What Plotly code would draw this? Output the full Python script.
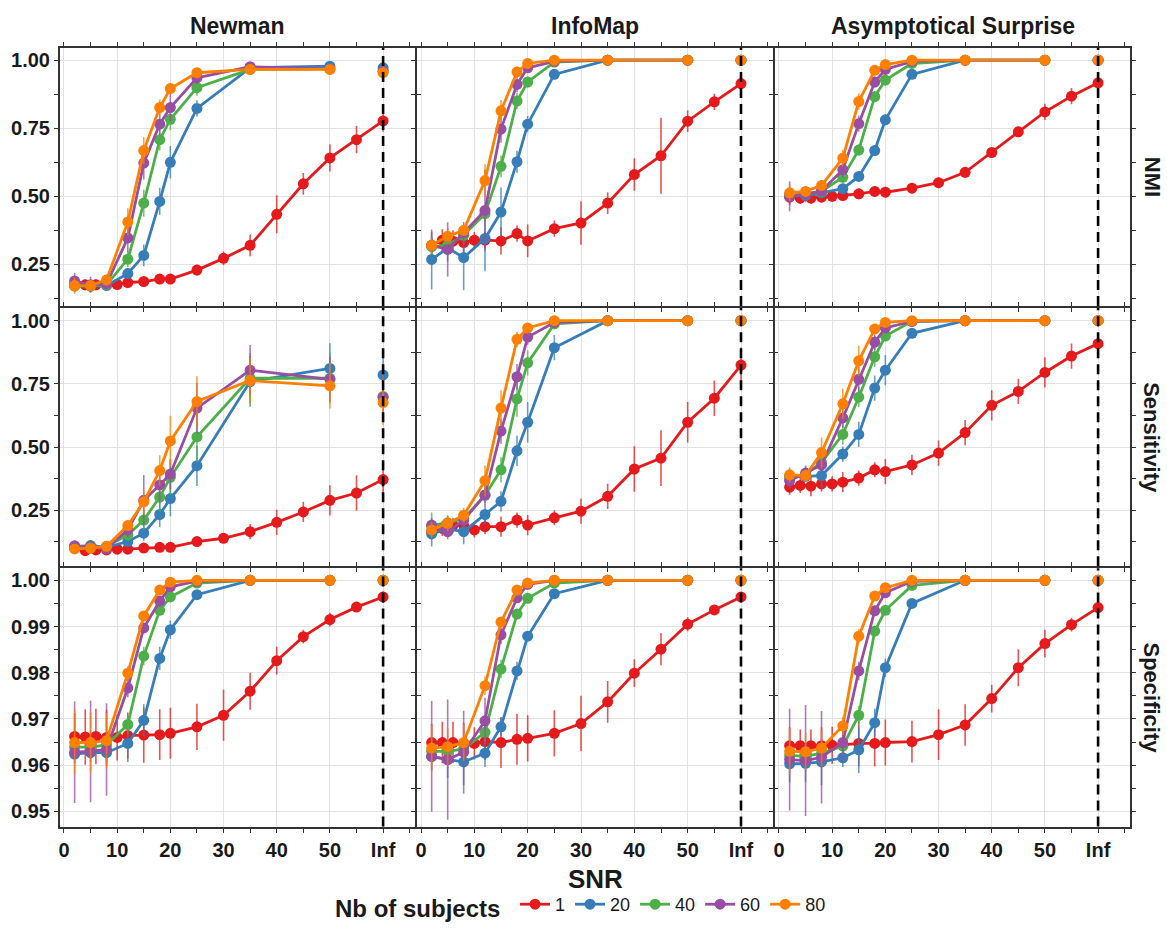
import plotly.graph_objects as go
from plotly.subplots import make_subplots

# ---------------- data ----------------
INF_POS = 60  # position used for the "Inf" SNR level
SNR_SINGLE = [2, 4, 6, 8, 10, 12, 15, 18, 20, 25, 30, 35, 40, 45, 50, 55, "Inf"]
SNR_GROUP = [2, 5, 8, 12, 15, 18, 20, 25, 35, 50, "Inf"]
X_TICKS = [0, 10, 20, 30, 40, 50, "Inf"]
X_MINOR = [5, 15, 25, 35, 45, 55, 65]
SUBJECTS = [1, 20, 40, 60, 80]
COLORS = ["#E41A1C", "#377EB8", "#4DAF4A", "#984EA3", "#FF7F00"]
METHODS = ["Newman", "InfoMap", "Asymptotical Surprise"]
METRICS = ["NMI", "Sensitivity", "Specificity"]

NEWMAN_NMI = {
    1: [0.177, 0.175, 0.175, 0.176, 0.176, 0.183, 0.187, 0.196, 0.196, 0.229, 0.272, 0.32, 0.434, 0.546, 0.641, 0.708, 0.777],
    20: [0.172, 0.17, 0.172, 0.216, 0.283, 0.481, 0.625, 0.823, 0.972, 0.978, 0.972],
    40: [0.17, 0.17, 0.175, 0.269, 0.475, 0.708, 0.783, 0.899, 0.966, 0.968, 0.96],
    60: [0.189, 0.175, 0.178, 0.347, 0.622, 0.765, 0.826, 0.935, 0.976, 0.968, 0.96],
    80: [0.172, 0.172, 0.193, 0.406, 0.668, 0.826, 0.896, 0.954, 0.966, 0.966, 0.954],
}
NEWMAN_NMI_ERR = {
    1: [0.02, 0.02, 0.02, 0.015, 0.015, 0.015, 0.015, 0.015, 0.015, 0.02, 0.025, 0.04, 0.07, 0.04, 0.05, 0.05, 0.04],
    20: [0.02, 0.02, 0.015, 0.02, 0.04, 0.05, 0.06, 0.03, 0.01, 0.01, 0.01],
    40: [0.02, 0.02, 0.015, 0.03, 0.05, 0.04, 0.04, 0.03, 0.01, 0.01, 0.01],
    60: [0.03, 0.03, 0.02, 0.05, 0.06, 0.04, 0.05, 0.02, 0.01, 0.01, 0.01],
    80: [0.03, 0.02, 0.02, 0.05, 0.05, 0.03, 0.02, 0.01, 0.01, 0.01, 0.01],
}
INFOMAP_NMI = {
    1: [0.32, 0.339, 0.335, 0.33, 0.339, 0.339, 0.336, 0.363, 0.336, 0.381, 0.402, 0.475, 0.58, 0.649, 0.776, 0.847, 0.914],
    20: [0.268, 0.31, 0.275, 0.345, 0.442, 0.627, 0.765, 0.948, 1.0, 1.0, 1.0],
    40: [0.315, 0.32, 0.357, 0.436, 0.61, 0.85, 0.92, 0.993, 1.0, 1.0, 1.0],
    60: [0.32, 0.305, 0.366, 0.448, 0.747, 0.911, 0.972, 0.996, 1.0, 1.0, 1.0],
    80: [0.32, 0.353, 0.375, 0.558, 0.814, 0.957, 0.988, 1.0, 1.0, 1.0, 1.0],
}
INFOMAP_NMI_ERR = {
    1: [0.05, 0.04, 0.04, 0.04, 0.03, 0.03, 0.05, 0.03, 0.06, 0.03, 0.08, 0.04, 0.06, 0.14, 0.04, 0.03, 0.03],
    20: [0.11, 0.05, 0.12, 0.12, 0.09, 0.04, 0.03, 0.01, 0.0, 0.0, 0.0],
    40: [0.03, 0.03, 0.03, 0.03, 0.04, 0.03, 0.02, 0.005, 0.0, 0.0, 0.0],
    60: [0.03, 0.1, 0.04, 0.15, 0.05, 0.03, 0.01, 0.005, 0.0, 0.0, 0.0],
    80: [0.03, 0.03, 0.02, 0.06, 0.04, 0.02, 0.01, 0.0, 0.0, 0.0, 0.0],
}
AS_NMI = {
    1: [0.497, 0.493, 0.493, 0.497, 0.5, 0.503, 0.509, 0.518, 0.515, 0.53, 0.55, 0.588, 0.661, 0.737, 0.81, 0.868, 0.917],
    20: [0.503, 0.503, 0.513, 0.528, 0.573, 0.668, 0.781, 0.948, 1.0, 1.0, 1.0],
    40: [0.505, 0.508, 0.518, 0.57, 0.67, 0.866, 0.927, 0.988, 1.0, 1.0, 1.0],
    60: [0.5, 0.508, 0.52, 0.598, 0.767, 0.92, 0.966, 0.996, 1.0, 1.0, 1.0],
    80: [0.513, 0.518, 0.54, 0.64, 0.848, 0.963, 0.984, 1.0, 1.0, 1.0, 1.0],
}
AS_NMI_ERR = {
    1: [0.03, 0.02, 0.02, 0.02, 0.02, 0.02, 0.02, 0.02, 0.02, 0.02, 0.02, 0.02, 0.02, 0.02, 0.03, 0.03, 0.03],
    20: [0.02, 0.02, 0.02, 0.02, 0.02, 0.02, 0.02, 0.01, 0.0, 0.0, 0.0],
    40: [0.02, 0.02, 0.02, 0.02, 0.02, 0.02, 0.02, 0.01, 0.0, 0.0, 0.0],
    60: [0.055, 0.03, 0.02, 0.03, 0.03, 0.02, 0.01, 0.0, 0.0, 0.0, 0.0],
    80: [0.03, 0.02, 0.02, 0.03, 0.03, 0.01, 0.01, 0.0, 0.0, 0.0, 0.0],
}
NEWMAN_SENS = {
    1: [0.10, 0.09, 0.093, 0.093, 0.096, 0.096, 0.10, 0.103, 0.103, 0.126, 0.139, 0.165, 0.202, 0.243, 0.289, 0.318, 0.371],
    20: [0.107, 0.11, 0.103, 0.126, 0.159, 0.233, 0.296, 0.426, 0.759, 0.811, 0.785],
    40: [0.10, 0.10, 0.107, 0.152, 0.211, 0.302, 0.38, 0.54, 0.772, 0.772, 0.70],
    60: [0.109, 0.103, 0.098, 0.172, 0.289, 0.35, 0.393, 0.654, 0.804, 0.768, 0.697],
    80: [0.097, 0.10, 0.107, 0.189, 0.283, 0.407, 0.524, 0.68, 0.763, 0.742, 0.676],
}
NEWMAN_SENS_ERR = {
    1: [0.01, 0.01, 0.01, 0.01, 0.01, 0.01, 0.01, 0.01, 0.01, 0.015, 0.015, 0.03, 0.05, 0.04, 0.06, 0.07, 0.07],
    20: [0.01, 0.01, 0.01, 0.02, 0.03, 0.05, 0.07, 0.08, 0.1, 0.1, 0.1],
    40: [0.01, 0.01, 0.01, 0.02, 0.04, 0.06, 0.07, 0.1, 0.1, 0.1, 0.1],
    60: [0.01, 0.01, 0.01, 0.03, 0.1, 0.07, 0.06, 0.1, 0.1, 0.09, 0.09],
    80: [0.01, 0.01, 0.01, 0.02, 0.05, 0.06, 0.1, 0.1, 0.09, 0.09, 0.09],
}
INFOMAP_SENS = {
    1: [0.165, 0.178, 0.19, 0.19, 0.172, 0.185, 0.185, 0.211, 0.191, 0.22, 0.246, 0.305, 0.413, 0.456, 0.598, 0.693, 0.824],
    20: [0.156, 0.176, 0.165, 0.233, 0.285, 0.485, 0.598, 0.893, 1.0, 1.0, 1.0],
    40: [0.191, 0.20, 0.217, 0.309, 0.41, 0.69, 0.833, 0.987, 1.0, 1.0, 1.0],
    60: [0.189, 0.165, 0.211, 0.31, 0.563, 0.778, 0.935, 0.993, 1.0, 1.0, 1.0],
    80: [0.172, 0.198, 0.23, 0.367, 0.654, 0.926, 0.971, 1.0, 1.0, 1.0, 1.0],
}
INFOMAP_SENS_ERR = {
    1: [0.03, 0.03, 0.03, 0.03, 0.03, 0.03, 0.04, 0.03, 0.04, 0.03, 0.05, 0.05, 0.09, 0.11, 0.08, 0.07, 0.07],
    20: [0.05, 0.03, 0.05, 0.04, 0.04, 0.06, 0.08, 0.05, 0.0, 0.0, 0.0],
    40: [0.05, 0.03, 0.03, 0.03, 0.05, 0.07, 0.05, 0.01, 0.0, 0.0, 0.0],
    60: [0.03, 0.03, 0.03, 0.04, 0.05, 0.05, 0.03, 0.01, 0.0, 0.0, 0.0],
    80: [0.03, 0.03, 0.03, 0.06, 0.07, 0.03, 0.01, 0.0, 0.0, 0.0, 0.0],
}
AS_SENS = {
    1: [0.341, 0.348, 0.345, 0.354, 0.354, 0.361, 0.377, 0.41, 0.403, 0.429, 0.476, 0.557, 0.665, 0.72, 0.795, 0.86, 0.909],
    20: [0.384, 0.384, 0.387, 0.472, 0.55, 0.733, 0.804, 0.95, 1.0, 1.0, 1.0],
    40: [0.374, 0.393, 0.439, 0.55, 0.697, 0.857, 0.939, 0.997, 1.0, 1.0, 1.0],
    60: [0.367, 0.397, 0.429, 0.615, 0.768, 0.915, 0.971, 0.997, 1.0, 1.0, 1.0],
    80: [0.39, 0.387, 0.478, 0.671, 0.841, 0.967, 0.993, 1.0, 1.0, 1.0, 1.0],
}
AS_SENS_ERR = {
    1: [0.03, 0.03, 0.04, 0.03, 0.03, 0.04, 0.03, 0.03, 0.05, 0.04, 0.05, 0.05, 0.06, 0.05, 0.06, 0.05, 0.04],
    20: [0.03, 0.02, 0.05, 0.03, 0.05, 0.05, 0.06, 0.02, 0.0, 0.0, 0.0],
    40: [0.03, 0.03, 0.03, 0.04, 0.04, 0.04, 0.02, 0.005, 0.0, 0.0, 0.0],
    60: [0.03, 0.03, 0.03, 0.04, 0.05, 0.03, 0.02, 0.005, 0.0, 0.0, 0.0],
    80: [0.03, 0.02, 0.06, 0.06, 0.06, 0.02, 0.01, 0.0, 0.0, 0.0, 0.0],
}
NEWMAN_SPEC = {
    1: [0.9662, 0.9661, 0.9662, 0.966, 0.966, 0.9664, 0.9665, 0.9666, 0.9669, 0.9683, 0.9708, 0.976, 0.9826, 0.9878, 0.9915, 0.9942, 0.9964],
    20: [0.9624, 0.9627, 0.9627, 0.9647, 0.9697, 0.9831, 0.9893, 0.9969, 1.0, 1.0, 1.0],
    40: [0.9639, 0.9639, 0.9644, 0.9688, 0.9836, 0.9935, 0.9964, 0.9994, 1.0, 1.0, 1.0],
    60: [0.9628, 0.963, 0.9634, 0.9767, 0.9897, 0.9955, 0.9986, 0.9998, 1.0, 1.0, 1.0],
    80: [0.9649, 0.9649, 0.9653, 0.9799, 0.9923, 0.9979, 0.9996, 1.0, 1.0, 1.0, 1.0],
}
NEWMAN_SPEC_ERR = {
    1: [0.005, 0.006, 0.006, 0.006, 0.005, 0.005, 0.006, 0.0055, 0.0055, 0.005, 0.0055, 0.004, 0.003, 0.0015, 0.0015, 0.001, 0.0012],
    20: [0.002, 0.002, 0.002, 0.004, 0.0035, 0.0025, 0.002, 0.001, 0.0, 0.0, 0.0],
    40: [0.002, 0.002, 0.002, 0.002, 0.002, 0.001, 0.001, 0.0005, 0.0, 0.0, 0.0],
    60: [0.011, 0.011, 0.01, 0.002, 0.001, 0.001, 0.0005, 0.0, 0.0, 0.0, 0.0],
    80: [0.007, 0.0065, 0.006, 0.0015, 0.001, 0.0005, 0.0, 0.0, 0.0, 0.0, 0.0],
}
INFOMAP_SPEC = {
    1: [0.9649, 0.9649, 0.9649, 0.9647, 0.9647, 0.9651, 0.9649, 0.9656, 0.9658, 0.9669, 0.969, 0.9737, 0.9799, 0.9851, 0.9905, 0.9936, 0.9964],
    20: [0.9619, 0.9612, 0.9607, 0.9626, 0.9683, 0.9804, 0.9879, 0.9971, 1.0, 1.0, 1.0],
    40: [0.963, 0.963, 0.9635, 0.9671, 0.9808, 0.9927, 0.9961, 0.9994, 1.0, 1.0, 1.0],
    60: [0.9619, 0.9612, 0.9628, 0.9696, 0.9882, 0.9962, 0.9991, 1.0, 1.0, 1.0, 1.0],
    80: [0.9637, 0.964, 0.9649, 0.9772, 0.991, 0.9979, 0.9994, 1.0, 1.0, 1.0, 1.0],
}
INFOMAP_SPEC_ERR = {
    1: [0.004, 0.0045, 0.0045, 0.0045, 0.0035, 0.004, 0.0055, 0.0055, 0.005, 0.005, 0.006, 0.0045, 0.003, 0.0035, 0.0015, 0.001, 0.001],
    20: [0.003, 0.004, 0.005, 0.003, 0.002, 0.002, 0.001, 0.0005, 0.0, 0.0, 0.0],
    40: [0.002, 0.002, 0.002, 0.002, 0.002, 0.001, 0.0005, 0.0, 0.0, 0.0, 0.0],
    60: [0.012, 0.013, 0.009, 0.005, 0.002, 0.001, 0.0005, 0.0, 0.0, 0.0, 0.0],
    80: [0.005, 0.004, 0.004, 0.002, 0.001, 0.0005, 0.0, 0.0, 0.0, 0.0, 0.0],
}
AS_SPEC = {
    1: [0.9642, 0.9642, 0.9642, 0.9642, 0.9643, 0.9644, 0.9647, 0.9647, 0.9649, 0.9651, 0.9666, 0.9687, 0.9744, 0.9811, 0.9863, 0.9904, 0.9941],
    20: [0.9603, 0.9604, 0.9607, 0.9616, 0.9633, 0.9692, 0.9811, 0.995, 1.0, 1.0, 1.0],
    40: [0.9621, 0.9619, 0.9626, 0.9641, 0.9708, 0.989, 0.9935, 0.9989, 1.0, 1.0, 1.0],
    60: [0.9612, 0.961, 0.9617, 0.9649, 0.9804, 0.9934, 0.9973, 0.9998, 1.0, 1.0, 1.0],
    80: [0.963, 0.9629, 0.9637, 0.9685, 0.9879, 0.9966, 0.9984, 1.0, 1.0, 1.0, 1.0],
}
AS_SPEC_ERR = {
    1: [0.004, 0.0035, 0.0035, 0.004, 0.004, 0.004, 0.005, 0.005, 0.005, 0.0045, 0.0055, 0.0045, 0.003, 0.004, 0.003, 0.0015, 0.001],
    20: [0.004, 0.004, 0.005, 0.002, 0.005, 0.003, 0.002, 0.001, 0.0, 0.0, 0.0],
    40: [0.002, 0.002, 0.002, 0.002, 0.002, 0.001, 0.001, 0.0005, 0.0, 0.0, 0.0],
    60: [0.011, 0.012, 0.01, 0.004, 0.002, 0.001, 0.0005, 0.0, 0.0, 0.0, 0.0],
    80: [0.005, 0.004, 0.004, 0.002, 0.0015, 0.0005, 0.0005, 0.0, 0.0, 0.0, 0.0],
}

PANELS = [
    [(NEWMAN_NMI, NEWMAN_NMI_ERR), (INFOMAP_NMI, INFOMAP_NMI_ERR), (AS_NMI, AS_NMI_ERR)],
    [(NEWMAN_SENS, NEWMAN_SENS_ERR), (INFOMAP_SENS, INFOMAP_SENS_ERR), (AS_SENS, AS_SENS_ERR)],
    [(NEWMAN_SPEC, NEWMAN_SPEC_ERR), (INFOMAP_SPEC, INFOMAP_SPEC_ERR), (AS_SPEC, AS_SPEC_ERR)],
]
Y_RANGES = [[0.097, 1.046], [0.028, 1.05], [0.9467, 1.0026]]
Y_TICKS = [[0.25, 0.50, 0.75, 1.00], [0.25, 0.50, 0.75, 1.00], [0.95, 0.96, 0.97, 0.98, 0.99, 1.00]]
Y_MINOR = [[0.125, 0.375, 0.625, 0.875], [0.125, 0.375, 0.625, 0.875], [0.955, 0.965, 0.975, 0.985, 0.995]]
X_RANGE = [-0.75, 66]

# ---------------- figure ----------------
W, H = 1167, 928
FONT = "Liberation Sans, Arial, Helvetica, sans-serif"
INK = "#1a1a1a"
BORDER = "#333333"
GRID = "#e2e2e2"

col_px = [(60, 415), (417, 773), (775, 1130)]
row_px = [(48, 308), (310, 570), (572, 832)]


def to_x(v):
    return INF_POS if v == "Inf" else v


def rgba(hex_color, a):
    h = hex_color.lstrip("#")
    return "rgba(%d,%d,%d,%.2f)" % (int(h[0:2], 16), int(h[2:4], 16), int(h[4:6], 16), a)


fig = make_subplots(rows=3, cols=3)

for r in range(3):
    for c in range(3):
        vals, errs = PANELS[r][c]
        for k, (subj, color) in enumerate(zip(SUBJECTS, COLORS)):
            xs = SNR_SINGLE if subj == 1 else SNR_GROUP
            xn = [to_x(v) for v in xs]
            ys = vals[subj]
            es = errs[subj]
            eb = dict(type="data", array=None, width=0, thickness=1.6, color=rgba(color, 0.75))
            show_leg = (r == 0 and c == 0)
            if subj == 1:
                fig.add_trace(go.Scatter(
                    x=xn, y=ys, mode="lines+markers", name=str(subj),
                    line=dict(color=color, width=2.8),
                    marker=dict(color=color, size=11),
                    error_y={**eb, "array": es},
                    legendgroup=str(subj), showlegend=show_leg,
                ), row=r + 1, col=c + 1)
            else:
                fig.add_trace(go.Scatter(
                    x=xn[:-1], y=ys[:-1], mode="lines+markers", name=str(subj),
                    line=dict(color=color, width=2.8),
                    marker=dict(color=color, size=11),
                    error_y={**eb, "array": es[:-1]},
                    legendgroup=str(subj), showlegend=show_leg,
                ), row=r + 1, col=c + 1)
                fig.add_trace(go.Scatter(
                    x=xn[-1:], y=ys[-1:], mode="markers", name=str(subj),
                    marker=dict(color=color, size=11),
                    error_y={**eb, "array": es[-1:]},
                    legendgroup=str(subj), showlegend=False,
                ), row=r + 1, col=c + 1)

tick_font = dict(family=FONT, size=20, color=INK, weight="bold")

for r in range(3):
    for c in range(3):
        idx = r * 3 + c + 1
        x0, x1 = col_px[c]
        y0, y1 = row_px[r]
        fig.update_xaxes(
            row=r + 1, col=c + 1,
            domain=[x0 / W, x1 / W],
            range=X_RANGE,
            tickmode="array",
            tickvals=[to_x(v) for v in X_TICKS],
            ticktext=[str(v) for v in X_TICKS],
            showticklabels=(r == 2),
            tickfont=tick_font,
            ticks="outside", ticklen=4, tickwidth=1.3, tickcolor=BORDER,
            minor=dict(tickmode="array", tickvals=X_MINOR, ticks="outside", ticklen=4,
                       tickwidth=1.3, tickcolor=BORDER, showgrid=False),
            showgrid=True, gridcolor=GRID, gridwidth=1,
            showline=True, linecolor=BORDER, linewidth=2, mirror="ticks",
            zeroline=False, automargin=False,
        )
        fig.update_yaxes(
            row=r + 1, col=c + 1,
            domain=[1 - y1 / H, 1 - y0 / H],
            range=Y_RANGES[r],
            tickmode="array",
            tickvals=Y_TICKS[r],
            ticktext=["%.2f" % v for v in Y_TICKS[r]],
            showticklabels=(c == 0),
            tickfont=tick_font,
            ticks="outside", ticklen=4, tickwidth=1.3, tickcolor=BORDER,
            minor=dict(tickmode="array", tickvals=Y_MINOR[r], ticks="outside", ticklen=4,
                       tickwidth=1.3, tickcolor=BORDER, showgrid=False),
            showgrid=True, gridcolor=GRID, gridwidth=1,
            showline=True, linecolor=BORDER, linewidth=2, mirror="ticks",
            zeroline=False, automargin=False,
        )
        sfx = "" if idx == 1 else str(idx)
        fig.add_shape(type="line", xref="x" + sfx, yref="y" + sfx + " domain",
                      x0=INF_POS, x1=INF_POS, y0=0, y1=1,
                      line=dict(color="black", width=2.6, dash="10px,6px"), layer="above")

annotations = []
for c, name in enumerate(METHODS):
    x0, x1 = col_px[c]
    annotations.append(dict(text=name, x=(x0 + x1) / 2 / W, y=1 - 26 / H, xref="paper", yref="paper",
                            showarrow=False, xanchor="center", yanchor="middle",
                            font=dict(family=FONT, size=23, color=INK, weight="bold")))
for r, name in enumerate(METRICS):
    y0, y1 = row_px[r]
    annotations.append(dict(text=name, x=1152 / W, y=1 - (y0 + y1) / 2 / H, xref="paper", yref="paper",
                            showarrow=False, xanchor="center", yanchor="middle", textangle=90,
                            font=dict(family=FONT, size=22, color=INK, weight="bold")))
annotations.append(dict(text="SNR", x=(col_px[0][0] + col_px[2][1]) / 2 / W, y=1 - 868 / H,
                        xref="paper", yref="paper", showarrow=False, xanchor="center", yanchor="top",
                        font=dict(family=FONT, size=26, color=INK, weight="bold")))

fig.update_layout(
    width=W, height=H,
    margin=dict(l=0, r=0, t=0, b=0),
    paper_bgcolor="white", plot_bgcolor="white",
    font=dict(family=FONT, color=INK),
    annotations=annotations,
    legend=dict(
        orientation="h", x=582 / W, xanchor="center",
        y=1 - 913 / H, yanchor="middle",
        title=dict(text="Nb of subjects ", side="left",
                   font=dict(family=FONT, size=24, color=INK, weight="bold")),
        font=dict(family=FONT, size=18, color=INK),
        itemwidth=30, tracegroupgap=0, bgcolor="rgba(0,0,0,0)",
    ),
)

fig.write_html("out.html")
